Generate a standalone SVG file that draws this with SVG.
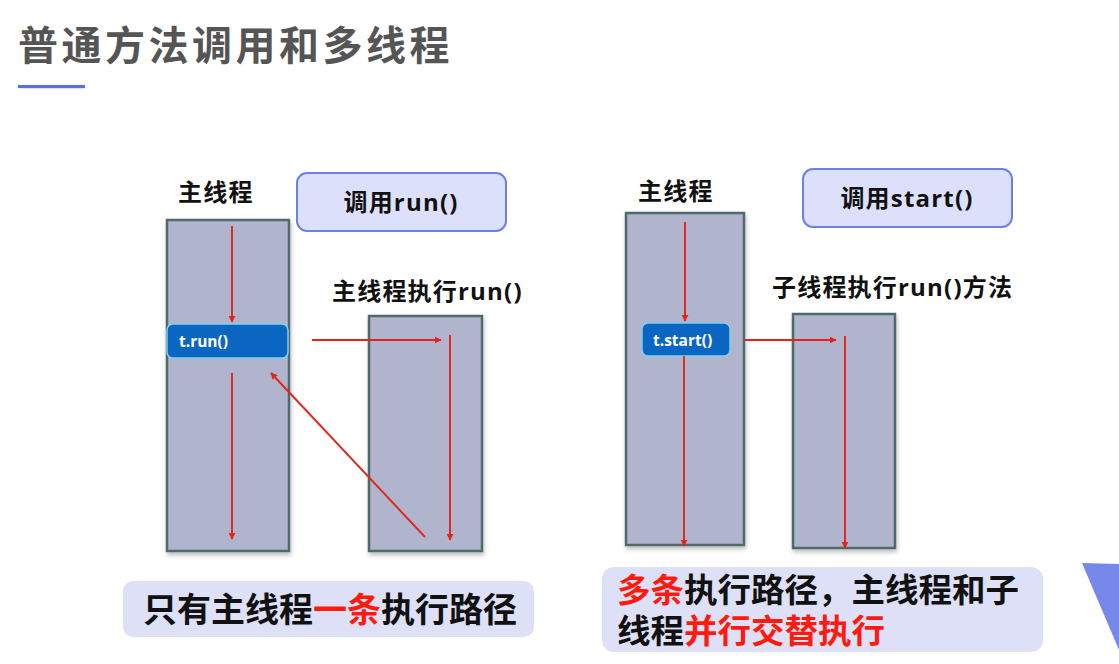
<svg xmlns="http://www.w3.org/2000/svg" width="1119" height="664" viewBox="0 0 1119 664">
<style>
.t{font-family:"Noto Sans CJK SC","Noto Sans",sans-serif;font-weight:bold;fill:#111}
.h{font-family:"Open Sans","Noto Sans CJK SC",sans-serif;font-weight:bold;fill:#111;font-size:24px;letter-spacing:1.2px}
.lane{fill:#b0b4cc;stroke:#506a6a;stroke-width:2.5}
.call{fill:#0b66c2;stroke:#7fd0ee;stroke-width:1.5}
.ct{font-family:"Open Sans","Noto Sans",sans-serif;font-weight:bold;fill:#fff;font-size:15.5px}
.lbl{fill:#dde0fa;stroke:#6d80e6;stroke-width:2}
.note{fill:#dde0f6}
.arr{stroke:#e3241b;stroke-width:1.9;fill:none;marker-end:url(#ah)}
.red{fill:#ff1a10}
</style>
<defs>
<marker id="ah" viewBox="0 0 10 10" refX="9" refY="5" markerWidth="7" markerHeight="7" markerUnits="userSpaceOnUse" orient="auto"><path d="M0,0L10,5L0,10z" fill="#e3241b"/></marker>
<filter id="sh" x="-10%" y="-10%" width="130%" height="130%"><feDropShadow dx="1" dy="3" stdDeviation="2" flood-color="#000" flood-opacity="0.25"/></filter>
</defs>
<rect width="1119" height="664" fill="#fff"/>
<g id="title">
<text class="t" x="18" y="60" font-size="40" letter-spacing="3.5" style="fill:#555">普通方法调用和多线程</text>
<rect x="18" y="85" width="67" height="3" fill="#5b6ee0" filter="url(#sh)"/>
</g>
<g id="left-main">
<text class="h" x="178" y="201">主线程</text>
<rect class="lane" x="167" y="220" width="122" height="331" filter="url(#sh)"/>
</g>
<g id="left-call">
<rect class="call" x="167" y="324" width="121" height="34" rx="6"/>
<text class="ct" x="179" y="347">t.run()</text>
</g>
<g id="left-label">
<rect class="lbl" x="297" y="173" width="209" height="58" rx="10"/>
<text class="h" x="401" y="211" text-anchor="middle">调用run()</text>
</g>
<g id="left-sub">
<text class="h" x="332" y="300">主线程执行run()</text>
<rect class="lane" x="369" y="316" width="113" height="235" filter="url(#sh)"/>
</g>
<g id="left-note">
<rect class="note" x="123" y="581" width="411" height="56" rx="10"/>
<text class="t" x="143" y="622" font-size="34">只有主线程<tspan class="red">一条</tspan>执行路径</text>
</g>
<g id="right-main">
<text class="h" x="638" y="200">主线程</text>
<rect class="lane" x="626" y="213" width="118" height="332" filter="url(#sh)"/>
</g>
<g id="right-call">
<rect class="call" x="642" y="323" width="88" height="33" rx="6"/>
<text class="ct" x="653" y="346">t.start()</text>
</g>
<g id="right-label">
<rect class="lbl" x="803" y="169" width="209" height="58" rx="10"/>
<text class="h" x="907" y="207" text-anchor="middle">调用start()</text>
</g>
<g id="right-sub">
<text class="h" x="772" y="296">子线程执行run()方法</text>
<rect class="lane" x="793" y="314" width="102" height="234" filter="url(#sh)"/>
</g>
<g id="right-note">
<rect class="note" x="602" y="567" width="441" height="85" rx="12"/>
<text class="t" x="617" y="602" font-size="33.5"><tspan class="red">多条</tspan>执行路径，主线程和子</text>
<text class="t" x="617" y="643" font-size="33.5">线程<tspan class="red">并行交替执行</tspan></text>
</g>
<g id="connectors">
<line class="arr" x1="232" y1="226" x2="232" y2="322"/>
<line class="arr" x1="232" y1="373" x2="232" y2="539"/>
<line class="arr" x1="312" y1="340" x2="441" y2="340"/>
<line class="arr" x1="450" y1="335" x2="450" y2="540"/>
<line class="arr" x1="425" y1="537" x2="271" y2="373"/>
<line class="arr" x1="685" y1="222" x2="685" y2="321"/>
<line class="arr" x1="684" y1="356" x2="684" y2="546"/>
<line class="arr" x1="745" y1="340" x2="836" y2="340"/>
<line class="arr" x1="845" y1="336" x2="845" y2="548"/>
</g>
<polygon points="1082,563 1119,564 1119,650" fill="#7688ea"/>
</svg>
